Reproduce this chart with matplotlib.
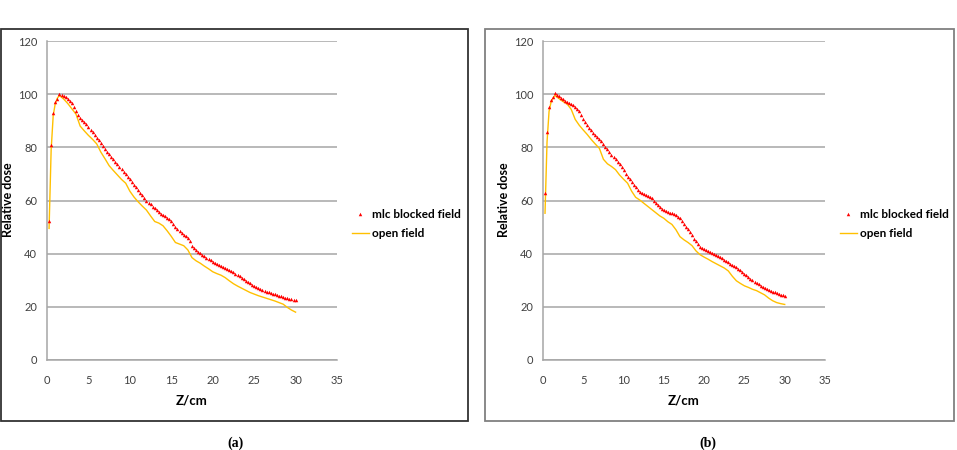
import matplotlib
matplotlib.use("Agg")
import matplotlib.pyplot as plt
from matplotlib.patches import Rectangle

# depths of the open-field curves (cm)
depth = [0.25, 0.5, 0.75, 1.0, 1.25, 1.5] + [2.0 + 0.5 * i for i in range(57)]
# depths of the mlc blocked-field markers (cm)
depth_mlc = [0.25 * (i + 1) for i in range(120)]

mlc_a = [52.3, 81, 93, 97.2, 98.3, 100, 99.7,
         99.3, 98.8, 98.0, 97.3, 96.5, 95.0, 93.5, 92.0, 91.0, 90.2, 89.5, 88.6, 87.7, 86.7,
         85.6, 84.6, 83.5, 82.6, 81.6, 80.5, 79.4, 78.4, 77.5, 76.5, 75.6, 74.6, 73.7, 72.7,
         71.8, 70.8, 69.8, 68.9, 67.9, 67.0, 66.0, 65.0, 64.0, 63.0, 62.0, 61.0, 60.0, 59.2,
         58.5, 57.7, 57.0, 56.3, 55.6, 55.0, 54.5, 54.0, 53.4, 52.9, 52.3, 51.2, 50.0, 49.3,
         48.6, 47.9, 47.2, 46.6, 46.0, 44.8, 43.0, 42.1, 41.4, 40.8, 40.2, 39.6, 39.0, 38.5,
         38.0, 37.5, 37.0, 36.6, 36.2, 35.8, 35.4, 35.0, 34.7, 34.3, 33.9, 33.5, 33.0, 32.5,
         32.0, 31.5, 30.9, 30.3, 29.8, 29.3, 28.8, 28.3, 27.8, 27.4, 27.0, 26.6, 26.3, 26.0,
         25.7, 25.4, 25.2, 24.9, 24.7, 24.4, 24.2, 23.9, 23.7, 23.4, 23.2, 23.0, 22.8, 22.6,
         22.4]
open_a = [49.5, 79, 92, 96.5, 98.5, 99.5, 98.2, 96.5, 94.5, 92.5, 88, 86.2, 84.5, 83, 81.3, 78.2,
          75.7, 73.1, 71.3, 69.6, 67.9, 66.5, 63.5, 61.3, 59.5, 57.9, 56.4, 54.2, 52.1, 51.5, 50.5,
          48.6, 46.5, 44.2, 43.6, 43.0, 41.4, 38.5, 37.3, 36.4, 35.3, 34.3, 33.2, 32.5, 31.9, 31.0,
          29.8, 28.7, 27.8, 27.0, 26.2, 25.4, 24.8, 24.2, 23.7, 23.2, 22.7, 22.2, 21.6, 21.0, 19.8,
          18.8, 18.0]
mlc_b = [62.7, 85.9, 95, 97.8, 99, 100.3, 99.8,
         99.2, 98.7, 98.2, 97.6, 97.1, 96.7, 96.3, 95.8, 95.3, 94.5, 93.5, 92.0, 90.5, 89.4,
         88.3, 87.4, 86.5, 85.5, 84.6, 83.8, 83.0, 82.2, 81.4, 80.3, 79.2, 78.2, 77.2, 76.4,
         75.6, 74.6, 73.6, 72.5, 71.3, 70.1, 69.0, 67.9, 66.9, 65.9, 65.0, 64.1, 63.3, 62.9,
         62.5, 62.2, 61.8, 61.3, 60.8, 60.0, 59.2, 58.4, 57.6, 56.9, 56.3, 55.9, 55.6, 55.4,
         55.2, 54.8, 54.4, 53.9, 53.3, 52.3, 51.3, 50.2, 49.2, 48.0, 46.9, 45.7, 44.6, 43.5,
         42.6, 42.2, 41.8, 41.4, 41.0, 40.6, 40.2, 39.9, 39.5, 39.2, 38.8, 38.2, 37.7, 37.2,
         36.8, 36.3, 35.8, 35.3, 34.8, 34.2, 33.7, 33.1, 32.5, 31.8, 31.2, 30.6, 30.0, 29.5,
         29.0, 28.5, 28.0, 27.6, 27.2, 26.8, 26.4, 26.0, 25.7, 25.4, 25.2, 24.9, 24.6, 24.3,
         24.0]
open_b = [55.2, 82, 93.5, 97, 98.5, 99.5, 98.3, 97.2, 96.3, 94.3, 90.5, 88.3, 86.5, 84.8, 82.9,
          81.2, 79.6, 75.5, 73.8, 72.8, 71.6, 69.6, 68.0, 66.5, 63.5, 61.2, 60.2, 59.0, 57.8, 56.6,
          55.4, 54.2, 53.3, 52.0, 51.0, 49.0, 46.4, 45.2, 44.2, 43.0, 41.0, 39.6, 38.7, 37.9, 37.0,
          36.2, 35.4, 34.6, 33.5, 31.5, 29.8, 28.8, 27.9, 27.3, 26.6, 26.1, 25.3, 24.5, 23.3, 22.3,
          21.6, 21.2, 20.9]

x_ticks = [0, 5, 10, 15, 20, 25, 30, 35]
y_ticks = [0, 20, 40, 60, 80, 100, 120]
series_labels = ["mlc blocked field", "open field"]
captions = ["(a)", "(b)"]

W, H = 957, 450
fig = plt.figure(figsize=(W / 100, H / 100), dpi=100)
plt.rcParams['font.family'] = ['Lato', 'DejaVu Sans']

def fx(px):
    return px / W

def fy(py):
    return 1 - py / H

panels = [
    dict(frame=(1, 29, 468, 421), fcol="#333333", ax=(47, 337), leg=(352, 224), cap=235,
         ylab=14, mlc=mlc_a, opn=open_a),
    dict(frame=(485, 29, 954, 421), fcol="#808080", ax=(543, 825), leg=(840, 224), cap=708,
         ylab=510, mlc=mlc_b, opn=open_b),
]

for i, p in enumerate(panels):
    x0, y0, x1, y1 = p["frame"]
    fig.patches.append(Rectangle((fx(x0), fy(y1)), fx(x1 - x0), (y1 - y0) / H,
                                 transform=fig.transFigure, fill=False,
                                 edgecolor=p["fcol"], linewidth=1.3))
    a0, a1 = p["ax"]
    ax = fig.add_axes([fx(a0), fy(360), fx(a1 - a0), (360 - 41) / H])
    ax.set_xlim(0, 35)
    ax.set_ylim(0, 120)
    ax.set_xticks(x_ticks)
    ax.set_yticks(y_ticks)
    ax.grid(axis='y', color='#a6a6a6', linewidth=1.1)
    ax.set_axisbelow(True)
    for s in ["top", "right"]:
        ax.spines[s].set_visible(False)
    for s in ["left", "bottom"]:
        ax.spines[s].set_color('#a6a6a6')
        ax.spines[s].set_linewidth(1.1)
    ax.tick_params(axis='x', length=0, labelsize=8, colors='#404040', pad=11)
    ax.tick_params(axis='y', length=0, labelsize=8, colors='#404040', pad=7)
    ax.plot(depth, p["opn"], color='#FFC000', linewidth=1.0, label=series_labels[1], zorder=2)
    ax.plot(depth_mlc, p["mlc"], linestyle='none', marker='^', markersize=2.5,
            color='#FF0000', markeredgewidth=0, label=series_labels[0], zorder=3)
    ax.set_xlabel("Z/cm", fontsize=9.5, fontweight='bold', labelpad=6)
    ax.set_ylabel("Relative dose", fontsize=9, fontweight='bold')
    ax.yaxis.set_label_coords(fx(p["ylab"]), fy(200), transform=fig.transFigure)
    h, l = ax.get_legend_handles_labels()
    ax.legend([h[1], h[0]], [l[1], l[0]], loc='center left',
              bbox_to_anchor=(fx(p["leg"][0]), fy(p["leg"][1])), bbox_transform=fig.transFigure,
              frameon=False, handlelength=1.4, handletextpad=0.3,
              labelspacing=0.7, borderaxespad=0, borderpad=0,
              prop={'weight': 'bold', 'size': 8.5})
    fig.text(fx(p["cap"]), fy(443), captions[i], ha='center', va='center',
             fontsize=10, fontweight='bold', family='Liberation Serif')

fig.savefig("out.png", dpi=100)
